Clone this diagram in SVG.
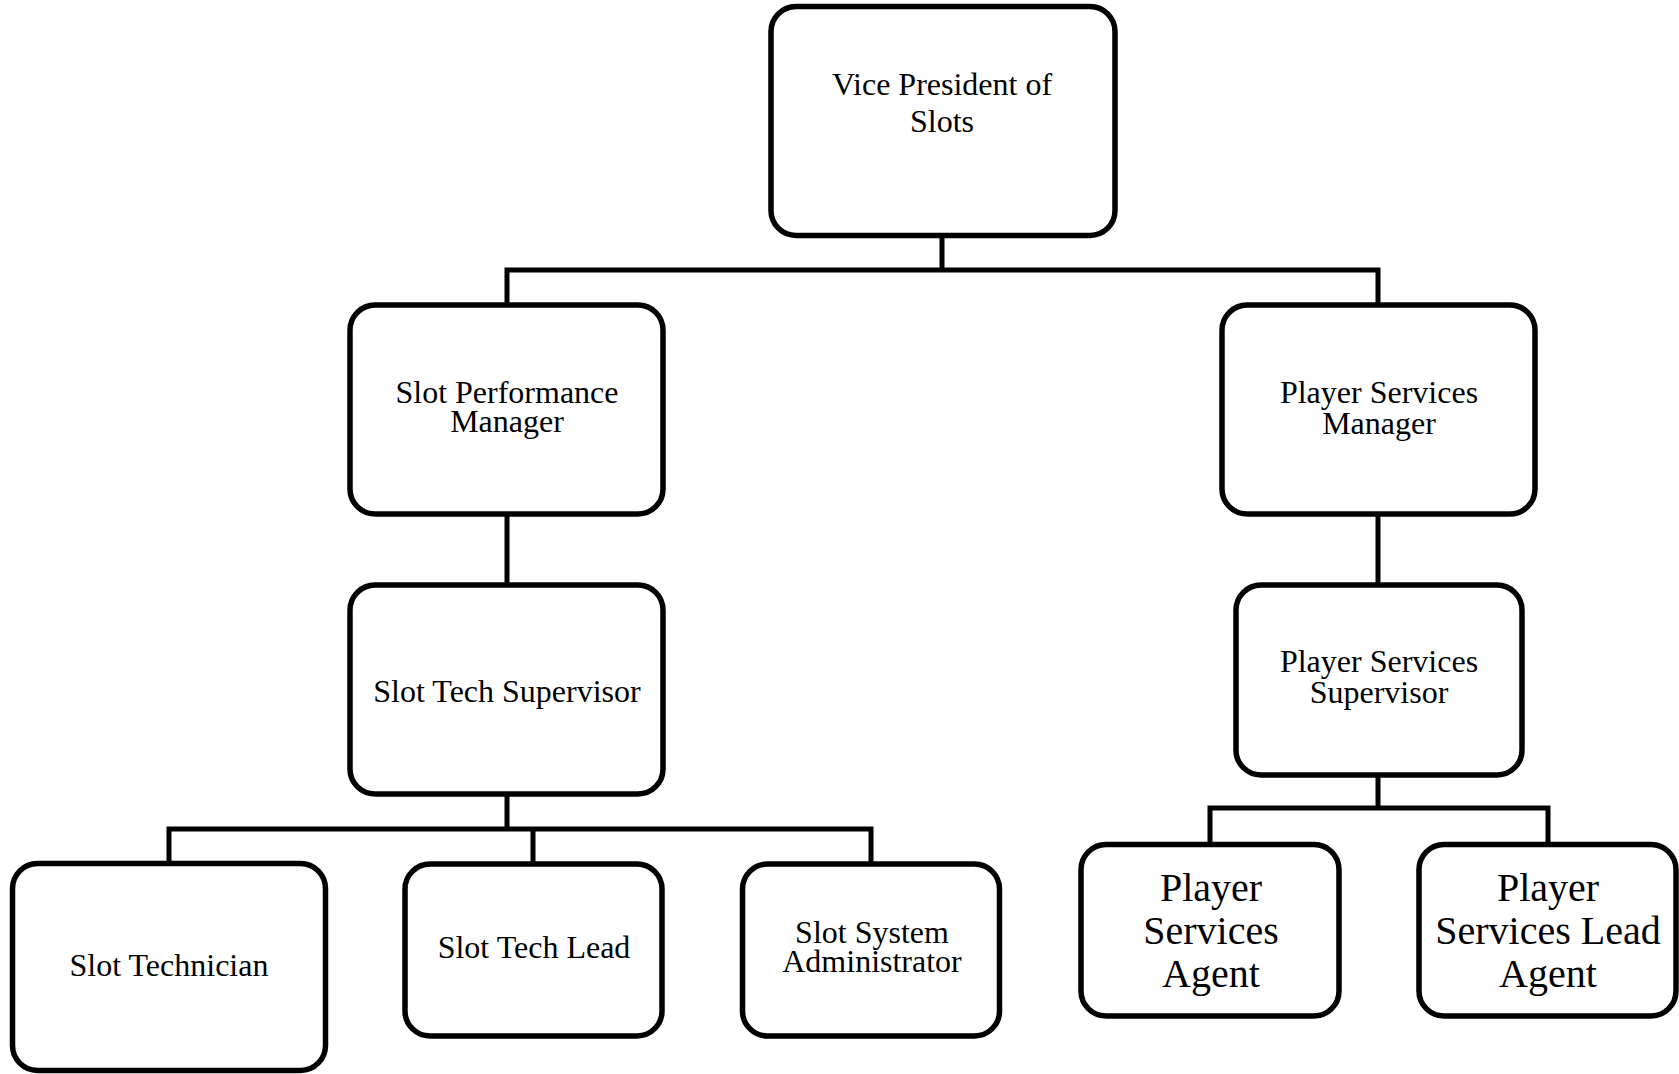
<svg xmlns="http://www.w3.org/2000/svg" width="1679" height="1074" viewBox="0 0 1679 1074">
<style>
.box{fill:#fff;stroke:#000;stroke-width:5.5}
.ln{fill:none;stroke:#000;stroke-width:5;stroke-linecap:square}
text{font-family:"Liberation Serif","Times New Roman",serif;fill:#000;text-anchor:middle}
.t{font-size:32px}
.b{font-size:40px}
</style>
<rect width="1679" height="1074" fill="#fff"/>
<g id="connectors">
<path class="ln" d="M942 237V270M507 270H1378M507 270V306M1378 270V306"/>
<path class="ln" d="M507 515V586"/>
<path class="ln" d="M1378 515V586"/>
<path class="ln" d="M507 795V829M169 829H871M169 829V865M533 829V865M871 829V865"/>
<path class="ln" d="M1378 776V808M1210 808H1548M1210 808V846M1548 808V846"/>
</g>
<g id="vp"><rect class="box" x="771" y="6.5" width="344" height="229" rx="25"/><text class="t" x="942" y="95">Vice President of</text><text class="t" x="942" y="132">Slots</text></g>
<g id="spm"><rect class="box" x="350" y="305" width="313" height="209" rx="25"/><text class="t" x="507" y="403">Slot Performance</text><text class="t" x="507" y="432">Manager</text></g>
<g id="psm"><rect class="box" x="1222" y="305" width="313" height="209" rx="25"/><text class="t" x="1379" y="403">Player Services</text><text class="t" x="1379" y="434">Manager</text></g>
<g id="sts"><rect class="box" x="350" y="585" width="313" height="209" rx="25"/><text class="t" x="507" y="702">Slot Tech Supervisor</text></g>
<g id="pss"><rect class="box" x="1236" y="585" width="286" height="190" rx="25"/><text class="t" x="1379" y="672">Player Services</text><text class="t" x="1379" y="703">Supervisor</text></g>
<g id="st"><rect class="box" x="12.5" y="863.5" width="313" height="207" rx="25"/><text class="t" x="169" y="976">Slot Technician</text></g>
<g id="stl"><rect class="box" x="405" y="864" width="257" height="172" rx="25"/><text class="t" x="534" y="958">Slot Tech Lead</text></g>
<g id="ssa"><rect class="box" x="742.5" y="864" width="257" height="172" rx="25"/><text class="t" x="872" y="943">Slot System</text><text class="t" x="872" y="972">Administrator</text></g>
<g id="psa"><rect class="box" x="1081" y="844.5" width="258" height="171.5" rx="25"/><text class="b" x="1211" y="901">Player</text><text class="b" x="1211" y="944">Services</text><text class="b" x="1211" y="987">Agent</text></g>
<g id="psla"><rect class="box" x="1419" y="844.5" width="257" height="171.5" rx="25"/><text class="b" x="1548" y="901">Player</text><text class="b" x="1548" y="944">Services Lead</text><text class="b" x="1548" y="987">Agent</text></g>
</svg>
